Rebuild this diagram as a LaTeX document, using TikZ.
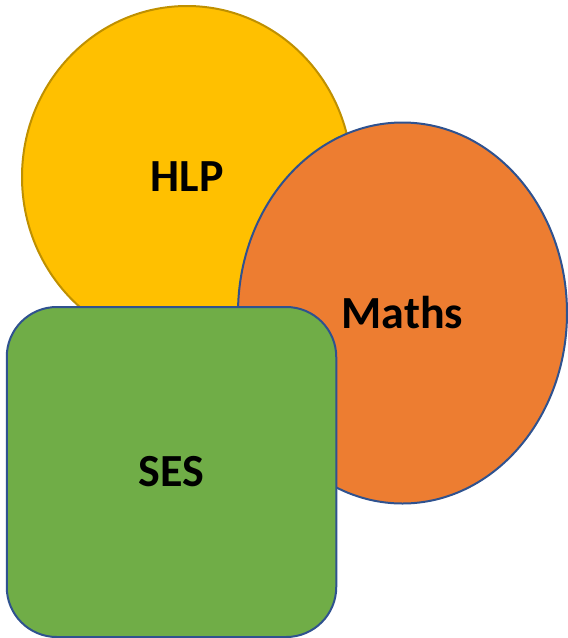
\documentclass[tikz,border=0pt]{standalone}
\usepackage{fontspec}
\setmainfont{Carlito}
\usetikzlibrary{shapes.geometric}
\definecolor{hlpfill}{HTML}{FFC000}
\definecolor{hlpline}{HTML}{BF9000}
\definecolor{mathfill}{HTML}{ED7D31}
\definecolor{sesfill}{HTML}{70AD47}
\definecolor{blueline}{HTML}{2F528F}
\tikzset{
  lbl/.style={font=\fontsize{46}{50}\selectfont\bfseries, text=black, inner sep=0pt},
  blob/.style={ellipse, line width=2pt, lbl},
}
\begin{document}
\begin{tikzpicture}[x=1pt,y=-1pt]
\useasboundingbox (0,0) rectangle (568,638);
\node[blob, draw=hlpline, fill=hlpfill, minimum width=330pt, minimum height=342pt] (hlp) at (187,177) {\raisebox{-3pt}{HLP}};
\node[blob, draw=blueline, fill=mathfill, minimum width=329pt, minimum height=381pt] (maths) at (402.5,313) {\raisebox{-2pt}{Maths}};
\node[rectangle, rounded corners=50pt, line width=2pt, draw=blueline, fill=sesfill, minimum width=329.5pt, minimum height=330pt, lbl] (ses) at (171.5,472) {\raisebox{-2pt}{SES}};
\end{tikzpicture}
\end{document}
